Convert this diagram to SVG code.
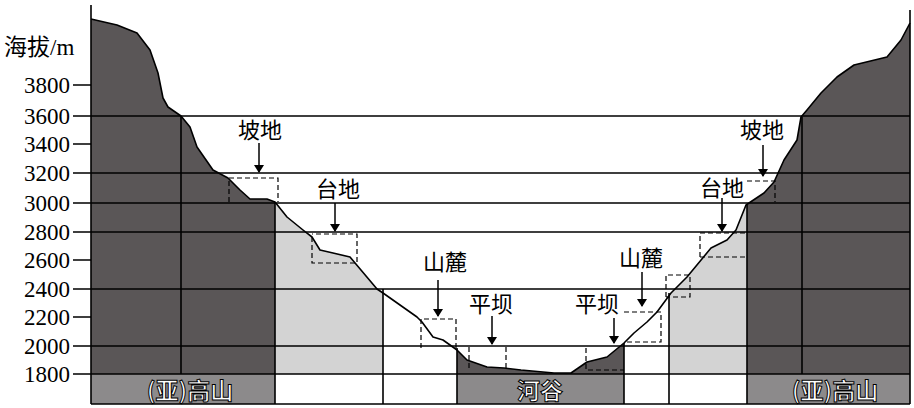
<svg xmlns="http://www.w3.org/2000/svg" width="914" height="408" viewBox="0 0 914 408">
<style>
.ln{stroke:#000;stroke-width:1.6;fill:none}
.ds{stroke:#000;stroke-width:1.2;fill:none;stroke-dasharray:5,3}
.t{font-family:"Liberation Serif","Noto Sans CJK SC",serif;font-size:23px;fill:#000}
.c{font-family:"Noto Sans CJK SC","Liberation Serif",serif;font-size:22px;fill:#000;text-anchor:middle}
.b{font-family:"Noto Sans CJK SC","Liberation Serif",serif;font-size:23px;font-weight:bold;fill:#fff;stroke:#000;stroke-width:1;text-anchor:middle}
.ar{stroke:#000;stroke-width:1.5;marker-end:url(#a)}
</style>
<defs><marker id="a" markerWidth="8" markerHeight="10" refX="7" refY="5" orient="auto" markerUnits="userSpaceOnUse"><path d="M0,0 L8,5 L0,10 Z" fill="#000"/></marker></defs>
<rect width="914" height="408" fill="#fff"/>
<g id="columns">
<rect x="91" y="0" width="184" height="374" fill="#5a5657"/>
<rect x="275" y="0" width="108" height="374" fill="#d3d3d3"/>
<rect x="457" y="0" width="167" height="374" fill="#5a5657"/>
<rect x="669" y="0" width="78" height="374" fill="#d3d3d3"/>
<rect x="747" y="0" width="163" height="374" fill="#5a5657"/>
<rect x="91" y="374" width="184" height="30" fill="#8c8a8b"/>
<rect x="457" y="374" width="167" height="30" fill="#8c8a8b"/>
<rect x="747" y="374" width="163" height="30" fill="#8c8a8b"/>
</g>
<path d="M91,0 L91,19 L117,25 L137,33 L150,50 L158,73 L163,98 L168,107 L181,116 L190,127 L197,147 L213,170 L228,178 L240,190 L250,199 L267,199 L275,202 L287,217 L303,230 L312,237 L320,250 L333,253 L350,257 L377,289 L383,293 L417,317 L422,322 L433,337 L443,340 L457,350 L467,360 L487,367 L504,368 L521,370 L554,373 L571,373 L587,362 L607,357 L624,343 L634,333 L647,322 L657,312 L671,293 L687,277 L711,248 L727,240 L736,230 L746,205 L764,193 L774,182 L784,160 L797,140 L801,117 L807,110 L821,93 L837,77 L854,65 L887,57 L901,40 L910,23 L910,0 Z" fill="#fff"/>
<g id="connectors">
<path class="ln" stroke-linejoin="round" d="M91,19 L117,25 L137,33 L150,50 L158,73 L163,98 L168,107 L181,116 L190,127 L197,147 L213,170 L228,178 L240,190 L250,199 L267,199 L275,202 L287,217 L303,230 L312,237 L320,250 L333,253 L350,257 L377,289 L383,293 L417,317 L422,322 L433,337 L443,340 L457,350 L467,360 L487,367 L504,368 L521,370 L554,373 L571,373 L587,362 L607,357 L624,343 L634,333 L647,322 L657,312 L671,293 L687,277 L711,248 L727,240 L736,230 L746,205 L764,193 L774,182 L784,160 L797,140 L801,117 L807,110 L821,93 L837,77 L854,65 L887,57 L901,40 L910,23"/>
<path class="ln" d="M73,85H91 M73,116H910 M73,144H91 M73,173H910 M73,203H910 M73,232H910 M73,260H91 M73,289H910 M73,317H91 M73,346H910 M73,374H910 M91,404H910 M91,5V404 M910,10V404 M181,116V374 M275,202V404 M383,289V404 M457,348V404 M624,343V404 M669,293V404 M747,205V404 M802,117V374"/>
<path class="ds" d="M229,202V178H278V202 M312,237V263H357V234H312 M421,348V319H456V348 M469,347V370 M506,347V370 M586,348V370H624 M624,312H661V342H624 M666,297V275H690V297H666 M700,257V233H746 M700,257H746 M747,181H775V202"/>
<line class="ar" x1="259" y1="143" x2="259" y2="172"/>
<line class="ar" x1="335" y1="203" x2="335" y2="231"/>
<line class="ar" x1="438" y1="280" x2="438" y2="316"/>
<line class="ar" x1="492" y1="316" x2="492" y2="344"/>
<line class="ar" x1="614" y1="318" x2="614" y2="343"/>
<line class="ar" x1="642" y1="272" x2="642" y2="306"/>
<line class="ar" x1="722" y1="198" x2="722" y2="231"/>
<line class="ar" x1="763" y1="145" x2="763" y2="176"/>
</g>
<g id="axis" class="t" text-anchor="end">
<text x="70" y="93">3800</text><text x="70" y="124">3600</text><text x="70" y="152">3400</text><text x="70" y="181">3200</text><text x="70" y="211">3000</text><text x="70" y="240">2800</text><text x="70" y="268">2600</text><text x="70" y="297">2400</text><text x="70" y="325">2200</text><text x="70" y="354">2000</text><text x="70" y="382">1800</text>
</g>
<text class="t" x="4" y="55">海拔/m</text>
<g id="n1"><text class="c" x="260" y="138">坡地</text></g>
<g id="n2"><text class="c" x="338" y="197">台地</text></g>
<g id="n3"><text class="c" x="445" y="270">山麓</text></g>
<g id="n4"><text class="c" x="491" y="312">平坝</text></g>
<g id="n5"><text class="c" x="597" y="312">平坝</text></g>
<g id="n6"><text class="c" x="641" y="266">山麓</text></g>
<g id="n7"><text class="c" x="722" y="196">台地</text></g>
<g id="n8"><text class="c" x="762" y="138">坡地</text></g>
<g id="b1"><text class="b" x="190" y="399">(亚)高山</text></g>
<g id="b2"><text class="b" x="540" y="399">河谷</text></g>
<g id="b3"><text class="b" x="835" y="399">(亚)高山</text></g>
</svg>
